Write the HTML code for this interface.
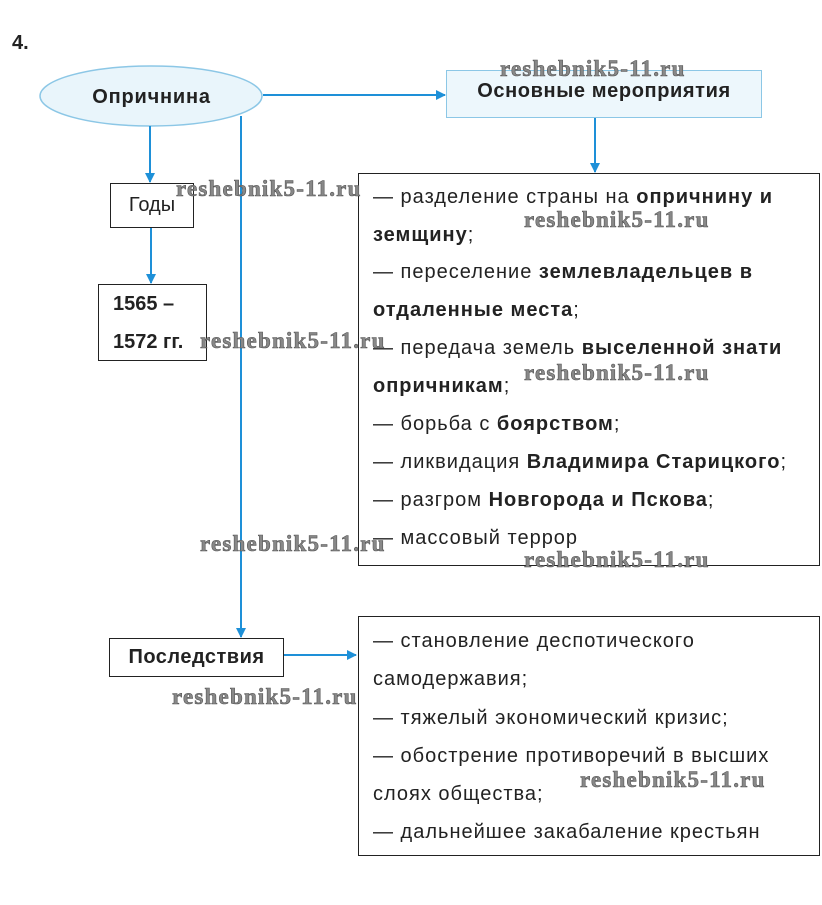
<!DOCTYPE html>
<html><head><meta charset="utf-8"><style>
body{margin:0;width:822px;height:905px;background:#fff;position:relative;font-family:"Liberation Sans",sans-serif;color:#222;overflow:hidden}
.a{position:absolute}
.box{position:absolute;border:1px solid #222;background:#fff;box-sizing:border-box}
.t{position:absolute;left:373px;font-size:20px;letter-spacing:1px;white-space:nowrap;line-height:22px}
.wm{position:absolute;font-family:"Liberation Serif",serif;font-weight:bold;font-size:23px;letter-spacing:1.2px;color:#888;-webkit-text-stroke:0.6px #555;white-space:nowrap;line-height:22px}
</style></head><body>
<svg class="a" style="left:0;top:0" width="822" height="905">
<defs><marker id="ar" markerWidth="10" markerHeight="10" refX="9" refY="5" orient="auto" markerUnits="userSpaceOnUse"><path d="M0,0 L10,5 L0,10z" fill="#1e90d8"/></marker></defs>
<ellipse cx="151" cy="96" rx="111" ry="30" fill="#e9f5fb" stroke="#8cc7e6" stroke-width="1.5"/>
<rect x="446.5" y="70.5" width="315" height="47" fill="#edf7fc" stroke="#8cc7e6"/>
<g stroke="#1e90d8" stroke-width="2" fill="none">
<line x1="263" y1="95" x2="445" y2="95" marker-end="url(#ar)"/>
<line x1="595" y1="118" x2="595" y2="172" marker-end="url(#ar)"/>
<line x1="150" y1="126" x2="150" y2="182" marker-end="url(#ar)"/>
<line x1="151" y1="227" x2="151" y2="283" marker-end="url(#ar)"/>
<line x1="241" y1="116" x2="241" y2="637" marker-end="url(#ar)"/>
<line x1="283" y1="655" x2="356" y2="655" marker-end="url(#ar)"/>
</g></svg>
<div class="a" style="left:12px;top:32px;font-size:20px;font-weight:bold">4.</div>
<div class="a" style="left:40px;top:86px;width:223px;text-align:center;font-size:20px;letter-spacing:0.8px;font-weight:bold">Опричнина</div>
<div class="a" style="left:446px;top:80px;width:316px;text-align:center;font-size:20px;letter-spacing:0.6px;font-weight:bold">Основные мероприятия</div>
<div class="box" style="left:110px;top:183px;width:84px;height:45px;font-size:20px;text-align:center;line-height:42px">Годы</div>
<div class="box" style="left:98px;top:284px;width:109px;height:77px;font-size:20px;font-weight:bold;padding-left:14px;line-height:38px;padding-top:0">1565 –<br>1572 гг.</div>
<div class="box" style="left:109px;top:638px;width:175px;height:39px;font-size:20px;letter-spacing:0.5px;font-weight:bold;text-align:center;line-height:37px">Последствия</div>
<div class="box" style="left:358px;top:173px;width:462px;height:393px"></div>
<div class="box" style="left:358px;top:616px;width:462px;height:240px"></div>
<div class="t" style="top:186px">— разделение страны на <b>опричнину и</b></div>
<div class="t" style="top:224px"><b>земщину</b>;</div>
<div class="t" style="top:261px">— переселение <b>землевладельцев в</b></div>
<div class="t" style="top:299px"><b>отдаленные места</b>;</div>
<div class="t" style="top:337px">— передача земель <b>выселенной знати</b></div>
<div class="t" style="top:375px"><b>опричникам</b>;</div>
<div class="t" style="top:413px">— борьба с <b>боярством</b>;</div>
<div class="t" style="top:451px">— ликвидация <b>Владимира Старицкого</b>;</div>
<div class="t" style="top:489px">— разгром <b>Новгорода и Пскова</b>;</div>
<div class="t" style="top:527px">— массовый террор</div>
<div class="t" style="top:630px">— становление деспотического</div>
<div class="t" style="top:668px">самодержавия;</div>
<div class="t" style="top:707px">— тяжелый экономический кризис;</div>
<div class="t" style="top:745px">— обострение противоречий в высших</div>
<div class="t" style="top:783px">слоях общества;</div>
<div class="t" style="top:821px">— дальнейшее закабаление крестьян</div>
<div class="wm" style="left:500px;top:58px">reshebnik5-11.ru</div>
<div class="wm" style="left:176px;top:178px">reshebnik5-11.ru</div>
<div class="wm" style="left:524px;top:209px">reshebnik5-11.ru</div>
<div class="wm" style="left:200px;top:330px">reshebnik5-11.ru</div>
<div class="wm" style="left:524px;top:362px">reshebnik5-11.ru</div>
<div class="wm" style="left:200px;top:533px">reshebnik5-11.ru</div>
<div class="wm" style="left:524px;top:549px">reshebnik5-11.ru</div>
<div class="wm" style="left:172px;top:686px">reshebnik5-11.ru</div>
<div class="wm" style="left:580px;top:769px">reshebnik5-11.ru</div>
</body></html>
